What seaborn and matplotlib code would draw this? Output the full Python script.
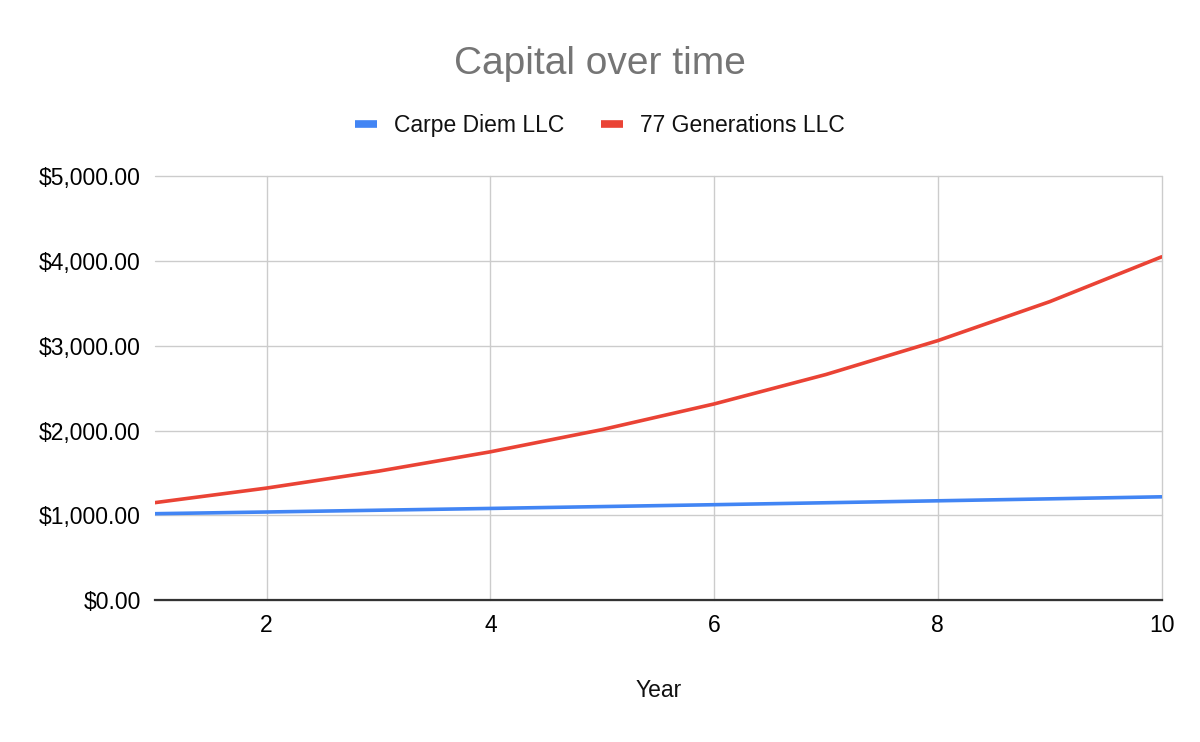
import matplotlib
matplotlib.use("Agg")
import matplotlib.pyplot as plt
import matplotlib.ticker as mticker
from matplotlib.lines import Line2D
import seaborn as sns
import pandas as pd

years = [1, 2, 3, 4, 5, 6, 7, 8, 9, 10]
carpe_diem = [1020, 1040, 1061, 1082, 1104, 1126, 1149, 1172, 1195, 1219]
generations = [1150, 1322, 1521, 1749, 2011, 2313, 2660, 3059, 3518, 4046]
series_names = ["Carpe Diem LLC", "77 Generations LLC"]
colors = ["#4285F4", "#EA4335"]

df = pd.concat([
    pd.DataFrame({"Year": years, "Capital": carpe_diem, "Company": series_names[0]}),
    pd.DataFrame({"Year": years, "Capital": generations, "Company": series_names[1]}),
])

sns.set_style("white")
plt.rcParams['font.family'] = ['Liberation Sans', 'DejaVu Sans']
plt.rcParams['text.color'] = '#111111'
plt.rcParams['axes.labelcolor'] = '#111111'

fig = plt.figure(figsize=(12, 7.42), dpi=100)
ax = fig.add_axes([0.129, 0.191, 0.839, 0.572])

sns.lineplot(data=df, x="Year", y="Capital", hue="Company",
             palette=colors, linewidth=2.6, ax=ax, legend=False)

ax.set_xlim(1, 10)
ax.set_ylim(0, 5000)
ax.set_xticks([2, 4, 6, 8, 10])
ax.set_yticks([0, 1000, 2000, 3000, 4000, 5000])
ax.yaxis.set_major_formatter(mticker.FuncFormatter(lambda v, p: "${:,.2f}".format(v)))
ax.grid(True, color="#cccccc", linewidth=1.0, clip_on=False)
ax.set_axisbelow(True)
for s in ["top", "left", "right"]:
    ax.spines[s].set_visible(False)
ax.spines["bottom"].set_color("#333333")
ax.spines["bottom"].set_linewidth(1.6)
ax.spines["bottom"].set_zorder(3)
ax.tick_params(axis="both", length=0, labelsize=16.5, colors="#000000")
ax.tick_params(axis="y", pad=10)
ax.tick_params(axis="x", pad=10)
ax.set_xlabel("Year", fontsize=16.5, labelpad=30)
ax.set_ylabel("")

fig.suptitle("Capital over time", x=0.5, y=0.938, fontsize=28, color="#757575")

handles = [Line2D([0], [0], color=c, linewidth=5.5, solid_capstyle="butt") for c in colors]
fig.legend(handles, series_names, loc="center", bbox_to_anchor=(0.5, 0.831),
           ncol=2, frameon=False, fontsize=16.5, handlelength=0.95,
           handletextpad=0.75, columnspacing=1.6)

fig.savefig("out.png", dpi=100, facecolor="white")
